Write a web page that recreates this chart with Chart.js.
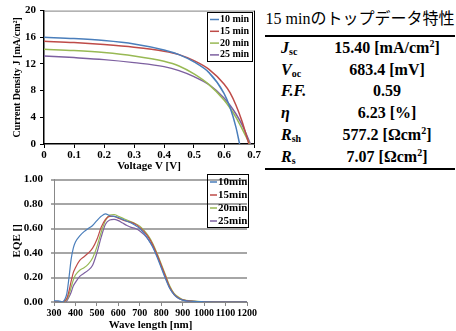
<!DOCTYPE html>
<html>
<head>
<meta charset="utf-8">
<script src="https://cdn.jsdelivr.net/npm/chart.js@4.4.1/dist/chart.umd.min.js"></script>
<style>
  body { margin: 0; background: #fff; width: 456px; height: 331px; overflow: hidden; position: relative; }
  #jv { position: absolute; left: 0; top: 0; }
  #eqe { position: absolute; left: 0; top: 165px; }
  #tbl { position: absolute; left: 265px; top: 7px; width: 190px; font-family: "Liberation Serif", "Noto Sans CJK JP", serif; color: #000; }
  #tbl .ttl { font-size: 16px; text-align: center; height: 28px; line-height: 24px; white-space: nowrap; }
  #tbl table { border-collapse: collapse; width: 100%; border-top: 2px solid #000; border-bottom: 2px solid #000; }
  #tbl td { font-weight: bold; font-size: 16px; height: 21.8px; padding: 0; line-height: 20px; white-space: nowrap; }
  #tbl td.k { width: 50px; padding-left: 16px; font-style: italic; }
  #tbl td.v { text-align: center; padding-right: 12px; }
  #tbl sub { font-size: 10px; font-style: normal; vertical-align: -2px; line-height: 0; }
  #tbl sup { font-size: 10px; vertical-align: 6px; line-height: 0; }
</style>
</head>
<body>
<canvas id="jv" width="262" height="172"></canvas>
<canvas id="eqe" width="262" height="166"></canvas>
<div id="tbl">
  <div class="ttl">15 minのトップデータ特性</div>
  <table>
    <tr><td class="k">J<sub>sc</sub></td><td class="v">15.40 [mA/cm<sup>2</sup>]</td></tr>
    <tr><td class="k">V<sub>oc</sub></td><td class="v">683.4 [mV]</td></tr>
    <tr><td class="k">F.F.</td><td class="v">0.59</td></tr>
    <tr><td class="k">η</td><td class="v">6.23 [%]</td></tr>
    <tr><td class="k">R<sub>sh</sub></td><td class="v">577.2 [Ωcm<sup>2</sup>]</td></tr>
    <tr><td class="k">R<sub>s</sub></td><td class="v">7.07 [Ωcm<sup>2</sup>]</td></tr>
  </table>
</div>
<script>
// ---- J-V data ----
const jvLabels = ['10 min', '15 min', '20 min', '25 min'];
const voltage = [0, 0.1, 0.2, 0.3, 0.4, 0.45, 0.5, 0.55, 0.6, 0.62, 0.64, 0.66];
const voc = [0.652, 0.683, 0.686, 0.688];
const j10 = [16.0, 15.8, 15.5, 15.0, 14.1, 13.4, 12.3, 10.7, 7.6, 5.5, 2.5, null];
const j15 = [15.4, 15.2, 14.9, 14.5, 13.9, 13.4, 12.5, 11.2, 9.0, 7.7, 5.8, 3.4];
const j20 = [14.2, 14.0, 13.7, 13.2, 12.4, 11.7, 10.5, 8.9, 6.6, 5.4, 4.0, 2.3];
const j25 = [13.2, 12.95, 12.65, 12.2, 11.6, 11.0, 10.1, 8.9, 6.9, 5.8, 4.5, 2.9];

// ---- EQE data ----
const eqeLabels = ['10min', '15min', '20min', '25min'];
const wavelength = [300, 320, 340, 350, 360, 370, 380, 390, 400, 420, 440, 460, 480, 500, 520, 540, 560, 580, 600,
  620, 640, 660, 680, 700, 720, 740, 760, 780, 800, 820, 840, 860, 880, 900, 950, 1000, 1100, 1200];
const eqe10 = [0.01, 0.01, 0.0, 0.02, 0.07, 0.2, 0.35, 0.44, 0.49, 0.54, 0.575, 0.6, 0.625, 0.665, 0.7, 0.72, 0.705, 0.7, 0.69,
  0.675, 0.66, 0.645, 0.625, 0.6, 0.56, 0.51, 0.45, 0.37, 0.28, 0.19, 0.11, 0.06, 0.03, 0.015, 0.005, 0.002, 0, 0];
const eqe15 = [0, 0, 0, 0.01, 0.03, 0.09, 0.17, 0.24, 0.28, 0.34, 0.37, 0.4, 0.44, 0.51, 0.61, 0.675, 0.7, 0.7, 0.685,
  0.67, 0.66, 0.65, 0.635, 0.61, 0.575, 0.53, 0.47, 0.39, 0.3, 0.21, 0.12, 0.065, 0.035, 0.018, 0.006, 0.002, 0, 0];
const eqe20 = [0, 0, 0, 0.005, 0.02, 0.06, 0.12, 0.18, 0.22, 0.26, 0.28, 0.31, 0.36, 0.45, 0.57, 0.665, 0.71, 0.715, 0.7,
  0.685, 0.67, 0.655, 0.64, 0.62, 0.585, 0.54, 0.48, 0.4, 0.31, 0.22, 0.13, 0.07, 0.04, 0.02, 0.007, 0.002, 0, 0];
const eqe25 = [0, 0, 0, 0, 0.01, 0.04, 0.08, 0.13, 0.16, 0.21, 0.235, 0.26, 0.3, 0.4, 0.53, 0.635, 0.67, 0.675, 0.665,
  0.645, 0.625, 0.61, 0.6, 0.58, 0.55, 0.51, 0.455, 0.38, 0.29, 0.2, 0.115, 0.06, 0.03, 0.015, 0.005, 0.001, 0, 0];

const colors = ['#4a7ebb', '#be4b48', '#98b954', '#7d60a0'];
const serif = '"Liberation Serif", serif';

function pts(xs, ys, end) {
  const out = [];
  xs.forEach((x, i) => { if (ys[i] !== null) out.push({ x: x, y: ys[i] }); });
  if (end !== undefined) out.push({ x: end, y: 0 });
  return out;
}

// legend box drawn on canvas
const boxLegend = {
  id: 'boxLegend',
  afterDraw(chart, args, o) {
    const ctx = chart.ctx;
    ctx.save();
    ctx.strokeStyle = '#000';
    ctx.lineWidth = 1;
    ctx.strokeRect(o.x + 0.5, o.y + 0.5, o.w, o.h);
    ctx.font = 'bold ' + o.size + 'px ' + serif;
    ctx.textBaseline = 'middle';
    chart.data.datasets.forEach((ds, i) => {
      const y = o.y + o.first + i * o.row;
      ctx.strokeStyle = ds.borderColor;
      ctx.lineWidth = 1.5;
      ctx.beginPath();
      ctx.moveTo(o.x + 3, y);
      ctx.lineTo(o.x + 3 + o.line, y);
      ctx.stroke();
      ctx.fillStyle = '#000';
      ctx.fillText(ds.label, o.x + 4 + o.line, y);
    });
    ctx.restore();
  }
};

const frame = {
  id: 'frame',
  afterDatasetsDraw(chart, args, o) {
    if (!o.on) return;
    const a = chart.chartArea, ctx = chart.ctx;
    ctx.save();
    ctx.lineWidth = 1;
    ctx.strokeStyle = '#808080';
    ctx.beginPath();
    ctx.moveTo(a.left, a.top + 0.5);
    ctx.lineTo(a.right, a.top + 0.5);
    ctx.stroke();
    ctx.strokeStyle = '#000';
    ctx.beginPath();
    ctx.moveTo(a.right + 0.5, a.top);
    ctx.lineTo(a.right + 0.5, a.bottom);
    ctx.stroke();
    ctx.restore();
  }
};

const tickFont = { family: serif, size: 11, weight: 'bold' };
const titleFont = { family: serif, size: 11, weight: 'bold', lineHeight: 1 };

new Chart(document.getElementById('jv'), {
  type: 'scatter',
  data: {
    datasets: [j10, j15, j20, j25].map((ys, i) => ({
      label: jvLabels[i],
      data: pts(voltage, ys, voc[i]),
      showLine: true,
      borderColor: colors[i],
      borderWidth: 1.5,
      pointRadius: 0,
      tension: 0.4,
      cubicInterpolationMode: 'monotone'
    }))
  },
  options: {
    responsive: false,
    animation: false,
    layout: { padding: { top: 10, right: 8, left: 0, bottom: 0 } },
    plugins: {
      legend: { display: false },
      tooltip: { enabled: false },
      boxLegend: { x: 207, y: 12, w: 45, h: 49, first: 7.5, row: 11.8, size: 10, line: 9 },
      frame: { on: true }
    },
    scales: {
      x: {
        type: 'linear', min: 0, max: 0.7,
        ticks: { stepSize: 0.1, color: '#000', font: tickFont, padding: 1, maxRotation: 0,
          callback: v => v === 0 ? '0' : v.toFixed(1) },
        grid: { drawOnChartArea: false, color: '#000', tickLength: 4 },
        border: { color: '#000', width: 1.5 },
        title: { display: true, text: 'Voltage V [V]', color: '#000', font: titleFont, padding: { top: 0, bottom: 0 } },
        afterFit: s => { s.height = 28; }
      },
      y: {
        min: 0, max: 20,
        ticks: { stepSize: 2, color: '#000', font: tickFont, padding: 4 },
        grid: { drawOnChartArea: false, color: '#000', tickLength: 4 },
        border: { color: '#000', width: 1.5 },
        title: { display: true, text: 'Current Density J [mA/cm²]', color: '#000', font: { family: serif, size: 10, weight: 'bold', lineHeight: 1 }, padding: { top: 12, bottom: 0 } },
        afterFit: s => { s.width = 44; }
      }
    }
  },
  plugins: [boxLegend, frame]
});

new Chart(document.getElementById('eqe'), {
  type: 'line',
  data: {
    datasets: [eqe10, eqe15, eqe20, eqe25].map((ys, i) => ({
      label: eqeLabels[i],
      data: pts(wavelength, ys),
      borderColor: colors[i],
      borderWidth: 1.2,
      pointRadius: 0,
      tension: 0.3,
      cubicInterpolationMode: 'monotone'
    }))
  },
  options: {
    responsive: false,
    animation: false,
    layout: { padding: { top: 10, right: 15, left: 0, bottom: 0 } },
    plugins: {
      legend: { display: false },
      tooltip: { enabled: false },
      boxLegend: { x: 207, y: 9, w: 41, h: 53, first: 8, row: 13, size: 11, line: 7 },
      frame: { on: false }
    },
    scales: {
      x: {
        type: 'linear', min: 300, max: 1200,
        ticks: { stepSize: 100, color: '#000', font: { family: serif, size: 10, weight: 'bold' }, padding: 1,
          minRotation: 0, maxRotation: 0, autoSkip: false, callback: v => String(v) },
        grid: { drawOnChartArea: false, color: '#888', tickLength: 4 },
        border: { color: '#888', width: 1 },
        title: { display: true, text: 'Wave length [nm]', color: '#000', font: titleFont, padding: { top: 0, bottom: 0 } },
        afterFit: s => { s.height = 29; }
      },
      y: {
        min: 0, max: 1,
        ticks: { stepSize: 0.1, color: '#000', font: tickFont, padding: 8, callback: v => v.toFixed(2) },
        grid: { color: '#a6a6a6', lineWidth: 2, tickLength: 3, drawTicks: true },
        border: { color: '#888', width: 1 },
        title: { display: true, text: 'EQE []', color: '#000', font: { family: serif, size: 11, weight: 'bold', lineHeight: 1 }, padding: { top: 12, bottom: 0 } },
        afterFit: s => { s.width = 54; }
      }
    }
  },
  plugins: [boxLegend, frame]
});
</script>
</body>
</html>
